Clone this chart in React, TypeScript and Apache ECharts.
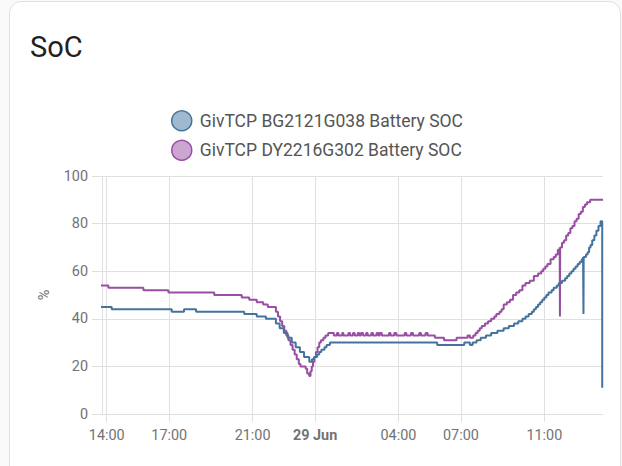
import { useEffect, useRef } from "react";
import * as echarts from "echarts";

const blueName = "GivTCP BG2121G038 Battery SOC";
const purpleName = "GivTCP DY2216G302 Battery SOC";

// hours counted from 28 Jun 00:00
const xTickHours = [14, 17, 21, 24, 28, 31, 35];
const xMin = 13.774;
const xMax = 37.817;

// [hour, SOC %] state changes
const blueSoc: [number, number][] = [
  [13.71, 45], [14.24, 44], [17.12, 43], [17.71, 44], [18.29, 43], [20.6, 42], [21.2, 41], [21.64, 40],
  [22.12, 38], [22.3, 36], [22.5, 34], [22.68, 32], [22.88, 30], [23.07, 28], [23.27, 26], [23.47, 24], [23.72, 22],
  [23.85, 23], [23.95, 24], [24.1, 25], [24.2, 26], [24.3, 27], [24.45, 28], [24.55, 29], [24.71, 30],
  [29.86, 29], [31.16, 30], [31.43, 29], [31.56, 30],
  [31.75, 31], [31.95, 32], [32.2, 33], [32.45, 34], [32.75, 35], [33.05, 36], [33.3, 37], [33.55, 38],
  [33.75, 39], [33.95, 40], [34.1, 41], [34.25, 42], [34.4, 43], [34.5, 44], [34.6, 45], [34.7, 46],
  [34.8, 47], [34.9, 48], [35.0, 49], [35.1, 50], [35.2, 51], [35.35, 52], [35.45, 53], [35.6, 54],
  [35.7, 55], [35.85, 56], [36.0, 57], [36.1, 58], [36.2, 59], [36.3, 60], [36.4, 61], [36.5, 62],
  [36.6, 63], [36.7, 64], [36.8, 65], [36.86, 66], [36.88, 42], [36.89, 66], [37.0, 67], [37.08, 68],
  [37.15, 70], [37.22, 71], [37.3, 73], [37.4, 75], [37.5, 77], [37.6, 79], [37.7, 81], [37.78, 11],
];

const purpleSoc: [number, number][] = [
  [13.71, 54], [14.08, 53], [15.76, 52], [16.96, 51], [19.16, 50], [20.48, 49], [20.84, 48], [21.2, 47],
  [21.51, 46], [21.73, 45],
  [22.12, 43], [22.22, 41], [22.32, 39], [22.42, 37], [22.52, 35], [22.62, 33], [22.72, 31], [22.82, 29],
  [22.92, 27], [23.02, 25], [23.12, 23], [23.22, 21], [23.3, 20], [23.55, 19], [23.62, 17], [23.72, 16],
  [23.78, 18], [23.84, 20], [23.9, 22], [23.97, 24], [24.04, 26], [24.12, 28], [24.2, 30], [24.28, 31],
  [24.4, 32], [24.5, 33], [24.63, 34],
  [24.9, 33], [25.05, 34], [25.12, 33], [25.3, 34], [25.36, 33], [25.6, 34], [25.68, 33], [25.82, 34],
  [25.9, 33], [26.05, 34], [26.12, 33], [26.2, 34], [26.3, 33], [26.45, 34], [26.52, 33], [26.7, 34],
  [26.78, 33], [26.95, 34], [27.03, 33], [27.1, 34], [27.2, 33], [27.55, 34], [27.62, 33], [27.8, 34],
  [27.9, 33], [28.3, 34], [28.38, 33], [28.6, 34], [28.7, 33], [29.0, 34], [29.08, 33], [29.3, 34], [29.4, 33],
  [29.75, 32], [30.19, 31], [30.79, 32], [31.32, 33], [31.43, 32], [31.59, 33],
  [31.7, 34], [31.8, 35], [31.9, 36], [32.0, 37], [32.15, 38], [32.3, 39], [32.45, 40], [32.6, 41],
  [32.7, 42], [32.85, 43], [32.95, 44], [33.05, 46], [33.2, 47], [33.35, 48], [33.5, 50], [33.65, 51],
  [33.8, 52], [33.95, 54], [34.1, 55], [34.3, 56], [34.5, 58], [34.7, 59], [34.85, 60], [34.95, 61],
  [35.05, 62], [35.15, 63], [35.3, 65], [35.45, 66], [35.55, 67], [35.65, 69], [35.74, 70], [35.75, 41],
  [35.76, 70], [35.85, 72], [35.95, 73], [36.05, 75], [36.15, 76], [36.25, 78], [36.35, 79], [36.45, 81],
  [36.55, 82], [36.65, 84], [36.75, 85], [36.85, 87], [36.95, 88], [37.05, 89], [37.2, 90], [37.82, 90],
];

const blueColor = "#44739e";
const purpleColor = "#984ea3";
const gridColor = "#e0e0e0";
const labelColor = "#727272";
const font = "Roboto";

function hourLabel(v: number): string {
  if (v === 24) return "{b|29 Jun}";
  const h = ((v % 24) + 24) % 24;
  return String(h).padStart(2, "0") + ":00";
}

export default function App() {
  const ref = useRef<HTMLDivElement>(null);
  useEffect(() => {
    if (!ref.current) return;
    const chart = echarts.init(ref.current, null, { renderer: "svg" });
    chart.setOption({
      animation: false,
      textStyle: { fontFamily: font },
      title: {
        text: "SoC",
        left: 30,
        top: 32,
        padding: 0,
        textStyle: { fontSize: 29, fontWeight: 400, color: "#212121", fontFamily: font },
      },
      legend: {
        orient: "vertical",
        left: 171,
        top: 110,
        padding: 0,
        itemWidth: 20,
        itemHeight: 20,
        itemGap: 8,
        selectedMode: false,
        textStyle: { fontSize: 17.5, color: "#555555", fontFamily: font, padding: [0, 0, 0, 3] },
        data: [
          {
            name: blueName,
            icon: "circle",
            itemStyle: { color: "rgba(68,115,158,0.5)", borderColor: blueColor, borderWidth: 1.5 },
          },
          {
            name: purpleName,
            icon: "circle",
            itemStyle: { color: "rgba(152,78,163,0.5)", borderColor: purpleColor, borderWidth: 1.5 },
          },
        ],
      },
      graphic: [
        {
          type: "text",
          x: 44,
          y: 295,
          rotation: Math.PI / 2,
          style: {
            text: "%",
            fontSize: 14.4,
            fill: labelColor,
            align: "center",
            verticalAlign: "middle",
            fontFamily: font,
          },
        },
      ],
      grid: { left: 102, right: 19, top: 176, bottom: 52 },
      xAxis: {
        type: "value",
        min: xMin,
        max: xMax,
        axisLine: { show: true, lineStyle: { color: gridColor } },
        axisTick: { show: true, length: 8, customValues: xTickHours, lineStyle: { color: gridColor } },
        splitLine: { show: true, lineStyle: { color: gridColor } },
        axisLabel: {
          customValues: xTickHours,
          formatter: hourLabel,
          margin: 14,
          fontSize: 14.4,
          color: labelColor,
          fontFamily: font,
          rich: { b: { fontWeight: "bold", fontSize: 14.4, color: labelColor, fontFamily: font } },
        },
      },
      yAxis: {
        type: "value",
        min: 0,
        max: 100,
        interval: 20,
        axisLine: { show: true, lineStyle: { color: gridColor } },
        axisTick: { show: true, length: 10, lineStyle: { color: gridColor } },
        splitLine: { show: true, lineStyle: { color: gridColor } },
        axisLabel: { margin: 14, fontSize: 14.4, color: labelColor, fontFamily: font },
      },
      series: [
        {
          name: blueName,
          type: "line",
          step: "end",
          data: blueSoc,
          showSymbol: false,
          symbol: "none",
          color: blueColor,
          lineStyle: { width: 2, color: blueColor },
          emphasis: { disabled: true },
          z: 3,
        },
        {
          name: purpleName,
          type: "line",
          step: "end",
          data: purpleSoc,
          showSymbol: false,
          symbol: "none",
          color: purpleColor,
          lineStyle: { width: 2, color: purpleColor },
          emphasis: { disabled: true },
          z: 2,
        },
      ],
    });
    return () => chart.dispose();
  }, []);
  return (
    <div
      style={{
        position: "fixed",
        left: 0,
        top: 0,
        width: 622,
        height: 466,
        overflow: "hidden",
        background: "#fafafa",
      }}
    >
      <div
        style={{
          position: "absolute",
          left: 9,
          top: 1,
          width: 610,
          height: 500,
          border: "1px solid #e0e0e0",
          borderRadius: 12,
          background: "#ffffff",
        }}
      />
      <div ref={ref} style={{ position: "absolute", left: 0, top: 0, width: 622, height: 466 }} />
    </div>
  );
}
